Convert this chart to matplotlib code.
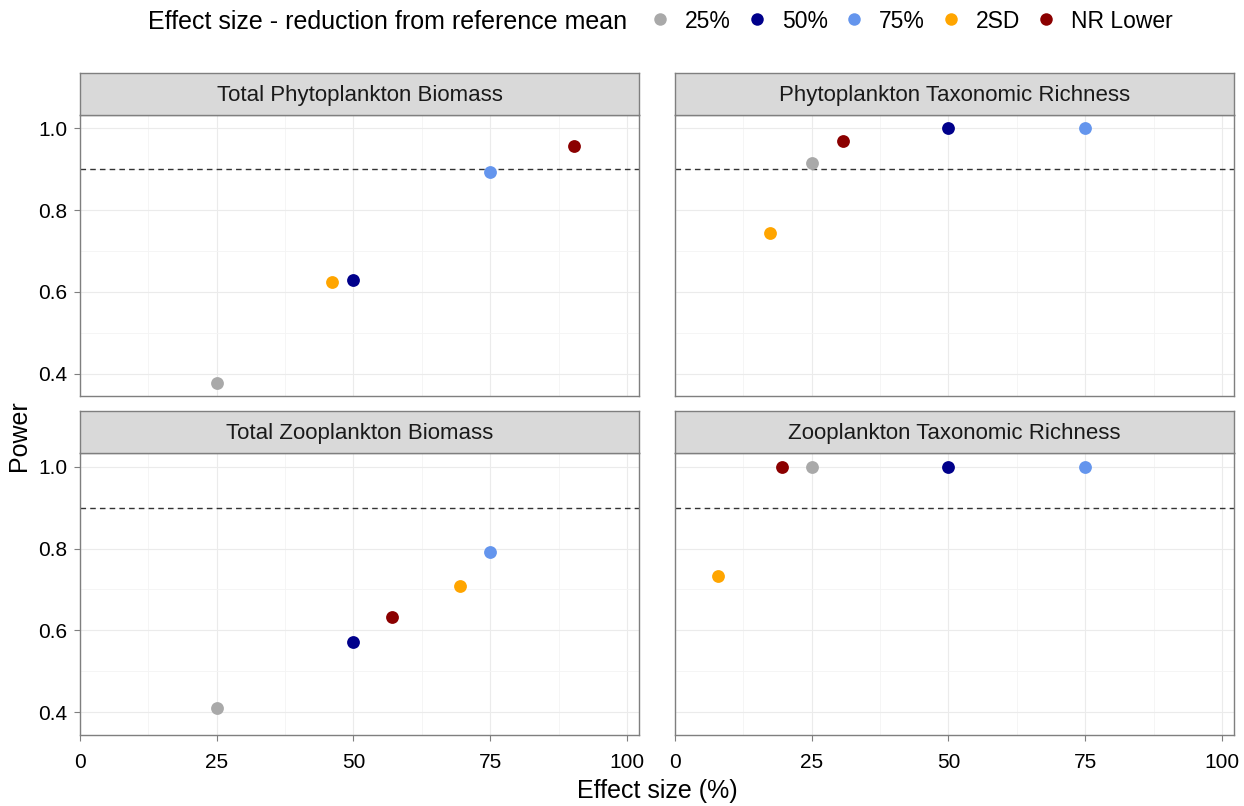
import matplotlib
matplotlib.use("Agg")
import matplotlib.pyplot as plt
from matplotlib.lines import Line2D

plt.rcParams['font.family'] = ['Liberation Sans', 'DejaVu Sans']

panels = ["Total Phytoplankton Biomass", "Phytoplankton Taxonomic Richness",
          "Total Zooplankton Biomass", "Zooplankton Taxonomic Richness"]
groups = ["25%", "50%", "75%", "2SD", "NR Lower"]
colors = ["#A9A9A9", "#00008B", "#6495ED", "#FFA500", "#8B0000"]

# effect size (%) and power per group, per panel
effect_phyto_biomass = [25, 50, 75, 46.0, 90.4]
power_phyto_biomass = [0.378, 0.628, 0.893, 0.624, 0.958]
effect_phyto_rich = [25, 50, 75, 17.4, 30.8]
power_phyto_rich = [0.915, 1.0, 1.0, 0.744, 0.970]
effect_zoo_biomass = [25, 50, 75, 69.5, 57.1]
power_zoo_biomass = [0.410, 0.571, 0.792, 0.708, 0.633]
effect_zoo_rich = [25, 50, 75, 7.8, 19.6]
power_zoo_rich = [1.0, 1.0, 1.0, 0.734, 1.0]

effects = [effect_phyto_biomass, effect_phyto_rich, effect_zoo_biomass, effect_zoo_rich]
powers = [power_phyto_biomass, power_phyto_rich, power_zoo_biomass, power_zoo_rich]
threshold = 0.9

W, H = 1244, 806
fig = plt.figure(figsize=(W / 100, H / 100), dpi=100)

# panel boxes in pixels
cols = [(80, 639), (675, 1234)]
rows = [(73, 115, 396), (411, 453, 735)]
border = "#7F7F7F"

for i, name in enumerate(panels):
    r, c = divmod(i, 2)
    l, rr = cols[c]
    st, pt, pb = rows[r]
    ax = fig.add_axes([l / W, 1 - pb / H, (rr - l) / W, (pb - pt) / H])
    ax.set_xlim(0, 102.2)
    ax.set_ylim(0.345, 1.033)
    ax.set_xticks([0, 25, 50, 75, 100])
    ax.set_xticks([12.5, 37.5, 62.5, 87.5], minor=True)
    ax.set_yticks([0.4, 0.6, 0.8, 1.0])
    ax.set_yticks([0.5, 0.7, 0.9], minor=True)
    ax.grid(True, which='major', color='#EBEBEB', lw=0.8)
    ax.grid(True, which='minor', color='#F4F4F4', lw=0.6)
    ax.set_axisbelow(True)
    for s in ax.spines.values():
        s.set_color(border)
        s.set_linewidth(1.0)
    ax.tick_params(which='minor', length=0)
    ax.tick_params(which='major', length=4, color=border, labelsize=15, labelcolor='black')
    ax.tick_params(axis='x', pad=9)
    ax.tick_params(axis='y', pad=5)
    if c == 1:
        ax.tick_params(axis='y', labelleft=False, length=0)
    if r == 0:
        ax.tick_params(axis='x', labelbottom=False, length=0)
    else:
        ax.set_xticklabels(["0", "25", "50", "75", "100"])
    if c == 0:
        ax.set_yticklabels(["0.4", "0.6", "0.8", "1.0"])
    ax.axhline(threshold, color='#333333', lw=1.0, ls=(0, (4, 3)), zorder=2)
    for g, col, x, y in zip(groups, colors, effects[i], powers[i]):
        ax.scatter([x], [y], s=85, color=col, zorder=3, linewidths=0)
    # strip
    sax = fig.add_axes([l / W, 1 - pt / H, (rr - l) / W, (pt - st) / H])
    sax.set_xticks([]); sax.set_yticks([])
    sax.set_facecolor('#D9D9D9')
    for s in sax.spines.values():
        s.set_color(border)
        s.set_linewidth(1.0)
    sax.text(0.5, 0.47, name, ha='center', va='center', fontsize=16, color='#1A1A1A',
             transform=sax.transAxes)

fig.text(19 / W, 1 - 436 / H, "Power", rotation=90, ha='center', va='center', fontsize=18)
fig.text(657 / W, 1 - 791 / H, "Effect size (%)", ha='center', va='center', fontsize=18)

fig.text(148 / W, 1 - 22 / H, "Effect size - reduction from reference mean", ha='left',
         va='center', fontsize=18)
handles = [Line2D([], [], ls='none', marker='o', markersize=9, markerfacecolor=c,
                  markeredgewidth=0) for c in colors]
fig.legend(handles, groups, ncol=5, loc='center left', bbox_to_anchor=(651 / W, 1 - 21 / H),
           frameon=False, fontsize=16.5, handlelength=0.8, handletextpad=0.69,
           columnspacing=0.73, borderpad=0, borderaxespad=0)

fig.savefig("out.png", dpi=100)
